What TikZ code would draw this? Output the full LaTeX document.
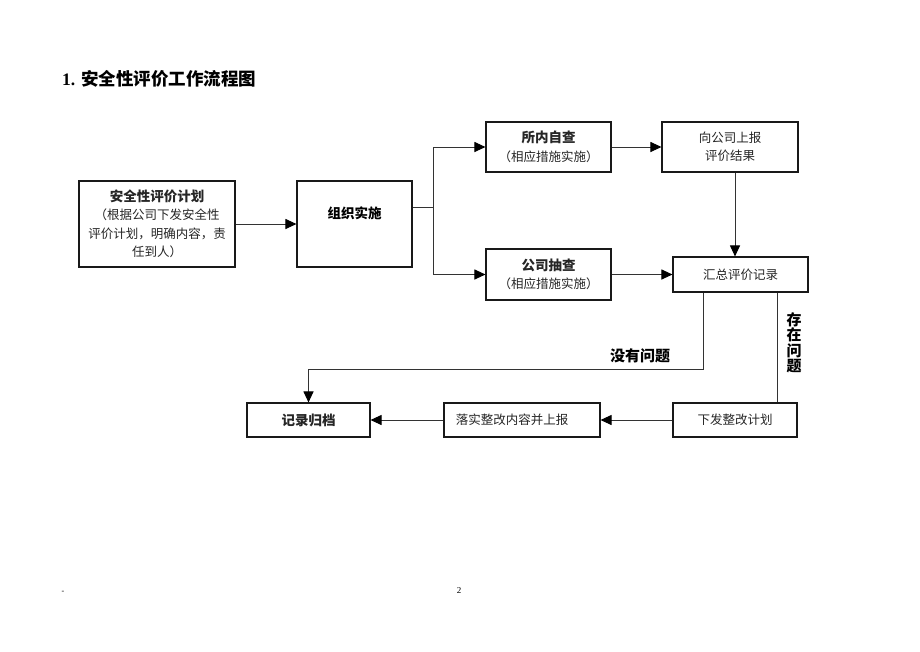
\documentclass[tikz,border=0pt]{standalone}
\usepackage{fontspec}
\setmainfont{Liberation Serif}
\newfontfamily\cjk{Noto Sans CJK SC}
\usetikzlibrary{arrows.meta}
\begin{document}
\begin{tikzpicture}[x=1pt,y=-1pt,
  box/.style={draw=black!90,line width=1.1pt,inner sep=0pt,align=center,
    font=\cjk\fontsize{12.5}{18.5}\selectfont,text=black!85},
  lbl/.style={inner sep=0pt,align=center,font=\cjk\bfseries\fontsize{13.5}{18}\selectfont},
  note/.style={inner sep=0pt,align=center,font=\cjk\bfseries\fontsize{15}{15.5}\selectfont},
  conn/.style={draw=black!80,line width=1pt},
  arr/.style={conn,-{Triangle[length=11pt,width=10pt,fill=black,color=black]}}]
\useasboundingbox[fill=white] (0,0) rectangle (920,651);

% title
\node[anchor=west,inner sep=0pt] (title) at (62,79)
  {\fontsize{17.5}{20}\selectfont\bfseries 1. {\cjk 安全性评价工作流程图}};

% boxes
\node[box,minimum width=156pt,minimum height=86pt] (A) at (157,224)
  {{\bfseries\fontsize{13.5}{18.5}\selectfont 安全性评价计划}\\（根据公司下发安全性\\评价计划，明确内容，责\\任到人）};
\node[box,minimum width=115pt,minimum height=86pt] (B) at (354.5,224) {};
\node[lbl] (Bt) at (354.5,213) {组织实施};
\node[box,minimum width=125pt,minimum height=50pt] (C) at (548.5,147)
  {{\bfseries\fontsize{13.5}{18.5}\selectfont 所内自查}\\（相应措施实施）};
\node[box,minimum width=136pt,minimum height=50pt] (D) at (730,147)
  {向公司上报\\评价结果};
\node[box,minimum width=125pt,minimum height=51pt] (E) at (548.5,274.5)
  {{\bfseries\fontsize{13.5}{18.5}\selectfont 公司抽查}\\（相应措施实施）};
\node[box,minimum width=135pt,minimum height=35pt] (F) at (740.5,274.5) {汇总评价记录};
\node[box,minimum width=123pt,minimum height=34pt] (G) at (308.5,420)
  {{\bfseries\fontsize{13.5}{18.5}\selectfont 记录归档}};
\node[box,minimum width=156pt,minimum height=34pt] (I) at (522,420)
  {落实整改内容并上报\hspace{20pt}};
\node[box,minimum width=124pt,minimum height=34pt] (H) at (735,420) {下发整改计划};

% labels
\node[note] (nq) at (640,356) {没有问题};
\node[note] (yq) at (794,343) {存\\在\\问\\题};

% helper coordinates
\coordinate (split) at (433,207);
\coordinate (nqc) at (703,369);
\coordinate (yqc) at (777,340);
\coordinate (dfc) at (735,200);

% connectors
\draw[arr] (A) -- (B);
\draw[conn] (split -| B.east) -- (split);
\draw[arr] (split) |- (C.west);
\draw[arr] (split) |- (E.west);
\draw[arr] (C) -- (D);
\draw[arr] (E) -- (F);
\draw[arr] (D.south -| dfc) -- (F.north -| dfc);
\draw[arr] (F.south -| nqc) -- (nqc) -| (G.north);
\draw[conn] (F.south -| yqc) -- (H.north -| yqc);
\draw[arr] (H) -- (I);
\draw[arr] (I) -- (G);

% footer
\node[inner sep=0pt,font=\fontsize{8}{9}\selectfont] (dash) at (63,592) {-};
\node[inner sep=0pt,font=\fontsize{9}{10}\selectfont] (pg) at (459,591) {2};
\end{tikzpicture}
\end{document}
